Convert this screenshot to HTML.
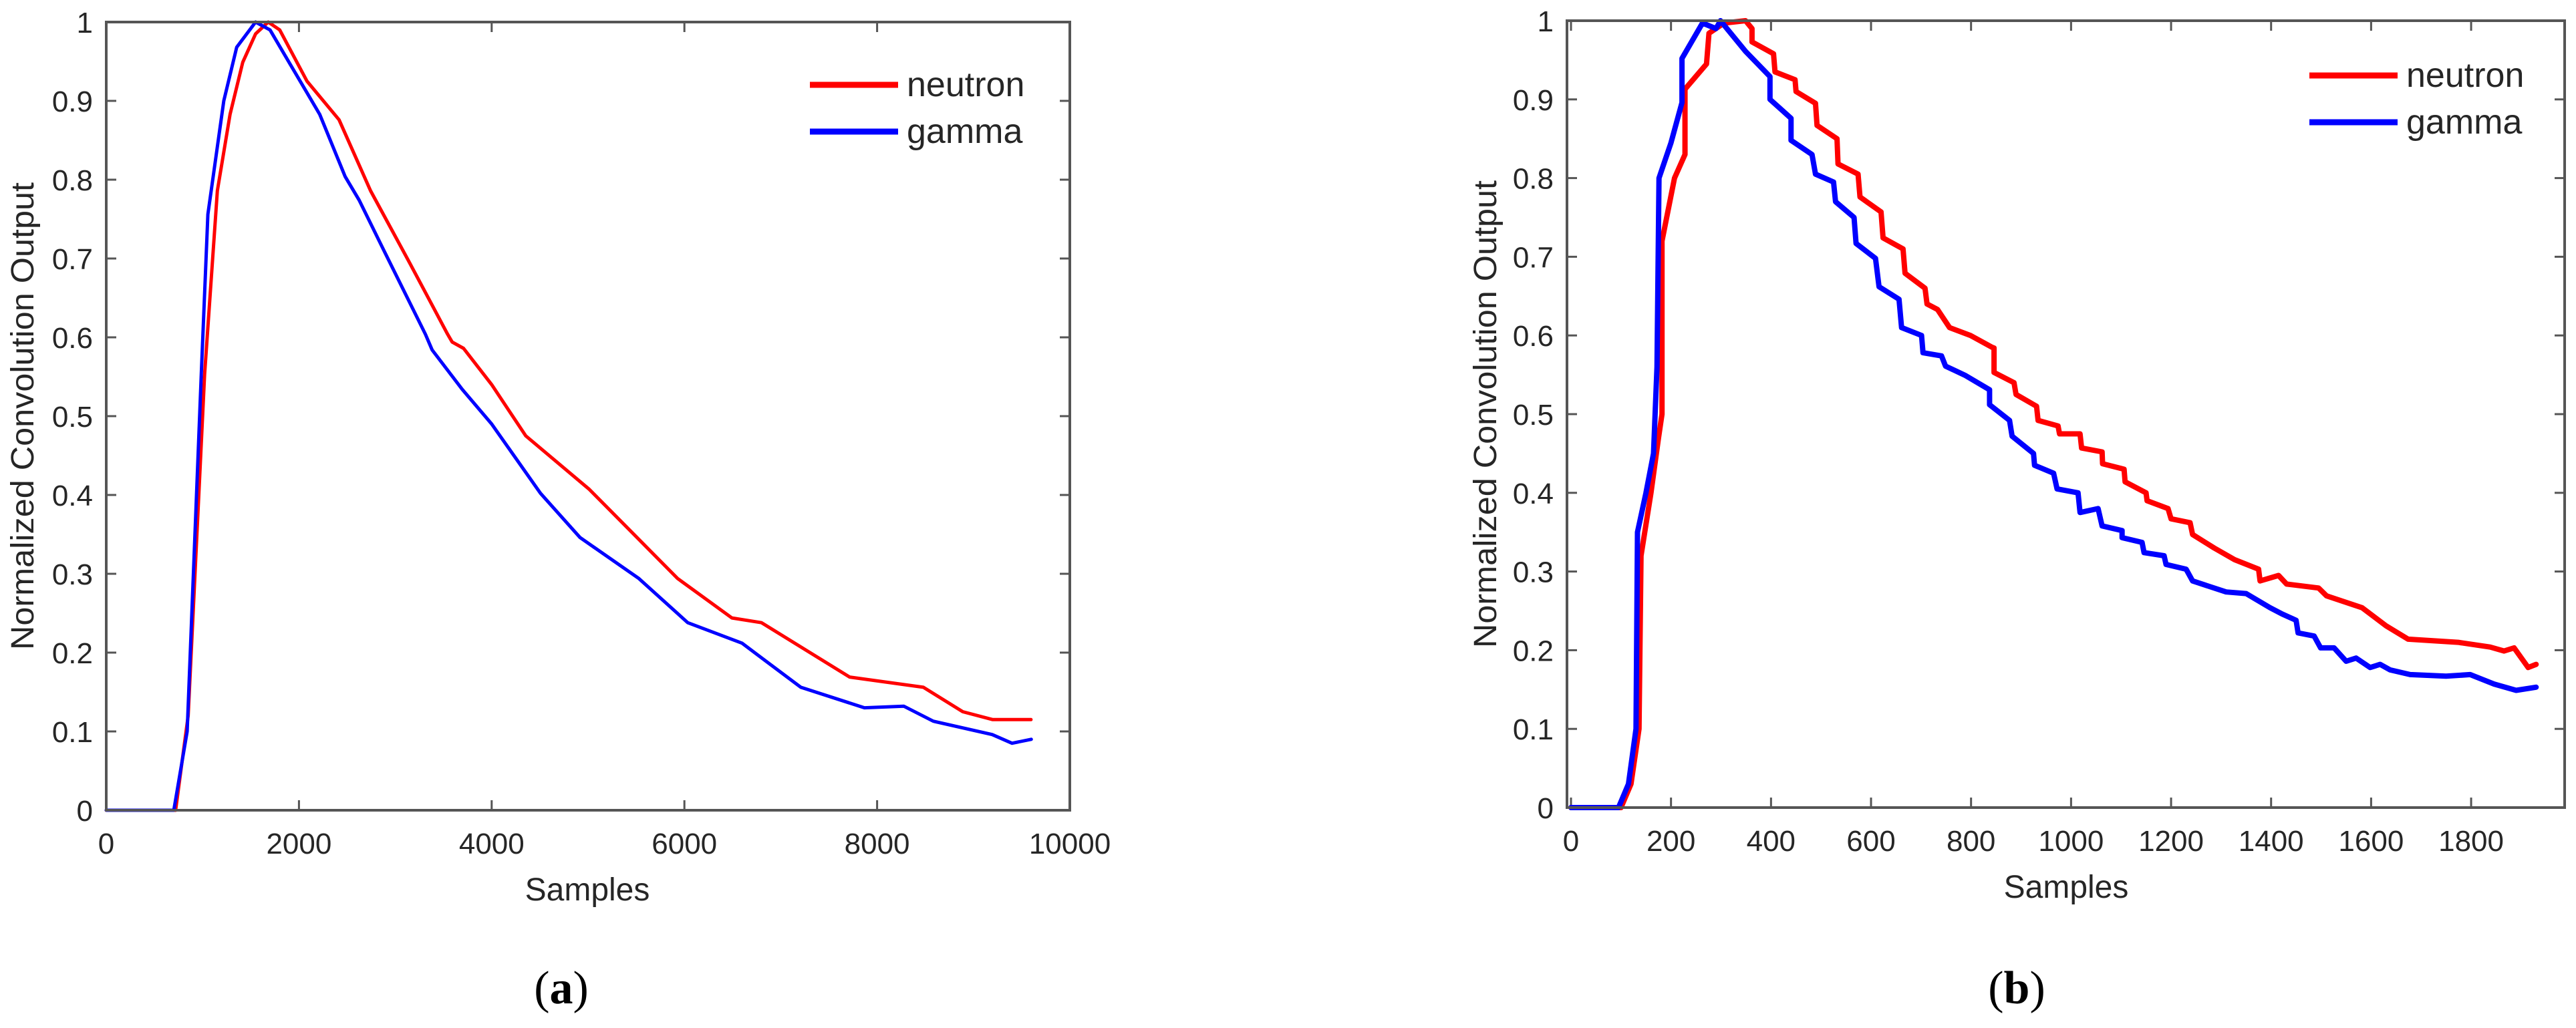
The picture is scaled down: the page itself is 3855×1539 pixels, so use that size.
<!DOCTYPE html>
<html>
<head>
<meta charset="utf-8">
<style>
  html, body { margin: 0; padding: 0; background: #fff; }
  svg { display: block; }
  text { font-family: "Liberation Sans", Arial, sans-serif; fill: #262626; }
  .serif { font-family: "Liberation Serif", "Times New Roman", serif; fill: #000; }
</style>
</head>
<body>
<svg id="fig" width="3855" height="1539" viewBox="0 0 3855 1539" xmlns="http://www.w3.org/2000/svg">
  <rect x="0" y="0" width="3855" height="1539" fill="#fff"/>
  <g id="panelA"></g>
  <g id="panelB"></g>
</svg>
<script>
// ---------- Panel (a) data ----------
const aNeutronX = [0, 720, 850, 1021, 1153, 1285, 1417, 1550, 1681, 1800, 2083, 2416, 2743, 3146, 3542, 3590, 3708, 4000, 4354, 5014, 5930, 6493, 6800, 7715, 8480, 8889, 9200, 9597];
const aNeutronY = [0, 0, 0.12, 0.553, 0.786, 0.883, 0.949, 0.985, 1.0, 0.99, 0.925, 0.876, 0.786, 0.695, 0.604, 0.594, 0.586, 0.54, 0.475, 0.407, 0.294, 0.244, 0.238, 0.169, 0.156, 0.125, 0.115, 0.115];
const aGammaX = [0, 701, 840, 986, 1055, 1220, 1354, 1550, 1700, 1882, 2215, 2479, 2625, 2882, 3312, 3382, 3694, 4000, 4507, 4917, 5528, 6035, 6597, 7208, 7868, 8277, 8583, 9194, 9400, 9600];
const aGammaY = [0, 0, 0.1, 0.553, 0.756, 0.90, 0.968, 1.0, 0.99, 0.952, 0.883, 0.804, 0.774, 0.71, 0.604, 0.584, 0.534, 0.49, 0.402, 0.346, 0.294, 0.238, 0.212, 0.156, 0.13, 0.132, 0.113, 0.096, 0.085, 0.09];
const aXTicks = [0, 2000, 4000, 6000, 8000, 10000];
const aXTickLabels = ["0", "2000", "4000", "6000", "8000", "10000"];
const yTicks = [0, 0.1, 0.2, 0.3, 0.4, 0.5, 0.6, 0.7, 0.8, 0.9, 1];
const yTickLabels = ["0", "0.1", "0.2", "0.3", "0.4", "0.5", "0.6", "0.7", "0.8", "0.9", "1"];

// ---------- Panel (b) data ----------
const bNeutronX = [0, 100, 120, 136, 140, 160, 175, 182, 182, 207, 228, 228, 271, 276, 306, 349, 362, 362, 405, 408, 448, 450, 489, 492, 532, 534, 574, 578, 620, 624, 664, 668, 708, 712, 733, 757, 799, 842, 846, 846, 886, 890, 931, 934, 974, 977, 1018, 1021, 1062, 1063, 1106, 1108, 1150, 1152, 1194, 1200, 1238, 1243, 1286, 1327, 1375, 1378, 1415, 1431, 1495, 1511, 1582, 1630, 1674, 1774, 1838, 1866, 1886, 1914, 1930];
const bNeutronY = [0, 0, 0.03, 0.1, 0.32, 0.4, 0.47, 0.5, 0.72, 0.8, 0.83, 0.913, 0.945, 0.984, 0.997, 1.0, 0.99, 0.973, 0.958, 0.935, 0.925, 0.91, 0.895, 0.867, 0.85, 0.818, 0.805, 0.776, 0.757, 0.724, 0.71, 0.679, 0.66, 0.64, 0.633, 0.61, 0.60, 0.585, 0.584, 0.553, 0.54, 0.525, 0.51, 0.492, 0.485, 0.475, 0.475, 0.457, 0.452, 0.437, 0.43, 0.414, 0.40, 0.39, 0.38, 0.367, 0.362, 0.347, 0.33, 0.315, 0.303, 0.288, 0.295, 0.284, 0.279, 0.269, 0.254, 0.231, 0.214, 0.21, 0.204, 0.199, 0.203, 0.178, 0.182];
const bGammaX = [0, 95, 115, 130, 133, 150, 165, 172, 176, 200, 222, 222, 263, 290, 299, 349, 398, 398, 440, 440, 482, 489, 525, 529, 566, 570, 609, 616, 656, 661, 701, 704, 741, 749, 789, 837, 837, 877, 882, 925, 927, 965, 972, 1014, 1018, 1054, 1062, 1102, 1102, 1142, 1146, 1186, 1190, 1230, 1243, 1310, 1350, 1398, 1422, 1450, 1454, 1486, 1499, 1526, 1550, 1570, 1598, 1618, 1638, 1678, 1750, 1798, 1846, 1890, 1930];
const bGammaY = [0, 0, 0.03, 0.1, 0.35, 0.4, 0.45, 0.56, 0.8, 0.845, 0.896, 0.952, 0.997, 0.99, 1.0, 0.961, 0.929, 0.90, 0.876, 0.848, 0.83, 0.805, 0.795, 0.77, 0.75, 0.717, 0.698, 0.662, 0.646, 0.61, 0.60, 0.578, 0.574, 0.561, 0.549, 0.531, 0.512, 0.492, 0.472, 0.45, 0.435, 0.425, 0.405, 0.40, 0.375, 0.38, 0.358, 0.352, 0.343, 0.337, 0.324, 0.32, 0.309, 0.303, 0.288, 0.274, 0.272, 0.254, 0.246, 0.238, 0.222, 0.218, 0.203, 0.203, 0.186, 0.19, 0.178, 0.182, 0.175, 0.169, 0.167, 0.169, 0.157, 0.149, 0.153];
const bXTicks = [0, 200, 400, 600, 800, 1000, 1200, 1400, 1600, 1800];
const bXTickLabels = ["0", "200", "400", "600", "800", "1000", "1200", "1400", "1600", "1800"];

const NS = "http://www.w3.org/2000/svg";
function mk(tag, attrs, parent) {
  const e = document.createElementNS(NS, tag);
  for (const k in attrs) e.setAttribute(k, attrs[k]);
  parent.appendChild(e);
  return e;
}

function drawPanel(g, cfg) {
  const sx = v => cfg.left + (v - cfg.xmin) / (cfg.xmax - cfg.xmin) * (cfg.right - cfg.left);
  const sy = v => cfg.bottom - v * (cfg.bottom - cfg.top);

  // y ticks
  yTicks.forEach((t, i) => {
    const y = sy(t);
    const tl = mk('line', {x1: cfg.left, x2: cfg.left + 15, y1: y, y2: y, stroke: '#555', 'stroke-width': 3}, g);
    
    
    const tr = mk('line', {x1: cfg.right - 15, x2: cfg.right, y1: y, y2: y, stroke: '#555', 'stroke-width': 3}, g);
    
    
    const lb = mk('text', {x: cfg.left - 20, y: y + 16, 'font-size': 44, 'text-anchor': 'end'}, g);
    lb.textContent = yTickLabels[i];
    
    
  });
  // x ticks
  cfg.xTicks.forEach((t, i) => {
    const x = sx(t);
    const tb = mk('line', {x1: x, x2: x, y1: cfg.bottom, y2: cfg.bottom - 15, stroke: '#555', 'stroke-width': 3}, g);
    
    
    const tt = mk('line', {x1: x, x2: x, y1: cfg.top, y2: cfg.top + 15, stroke: '#555', 'stroke-width': 3}, g);
    
    
    const lb = mk('text', {x: x, y: cfg.bottom + 65, 'font-size': 44, 'text-anchor': 'middle'}, g);
    lb.textContent = cfg.xTickLabels[i];
    
    
  });

  // series
  cfg.series.forEach(s => {
    const pts = s.x.map((v, i) => sx(v).toFixed(1) + ',' + sy(s.y[i]).toFixed(1)).join(' ');
    const pl = mk('polyline', {points: pts, fill: 'none', stroke: s.color, 'stroke-width': cfg.lw, 'stroke-linejoin': 'round', 'stroke-linecap': 'round'}, g);
    
    
  });

  // axes box
  const box = mk('rect', {x: cfg.left, y: cfg.top, width: cfg.right - cfg.left, height: cfg.bottom - cfg.top, fill: 'none', stroke: '#555', 'stroke-width': 4}, g);
  
  

  // labels
  const xl = mk('text', {x: cfg.xLabelX, y: cfg.bottom + 135, 'font-size': 48, 'text-anchor': 'middle'}, g);
  xl.textContent = 'Samples';
  
  
  const cy = (cfg.top + cfg.bottom) / 2;
  const yl = mk('text', {x: 0, y: 0, 'font-size': 48, 'text-anchor': 'middle', textLength: 700, lengthAdjust: 'spacingAndGlyphs', transform: 'translate(' + (cfg.yLabelX + 17) + ',' + cy + ') rotate(-90)'}, g);
  yl.textContent = 'Normalized Convolution Output';
  
  

  // legend
  cfg.series.forEach((s, i) => {
    const ly = cfg.legY + i * 70;
    const ll = mk('line', {x1: cfg.legX, x2: cfg.legX + 132, y1: ly, y2: ly, stroke: s.color, 'stroke-width': 9}, g);
    
    
    const lt = mk('text', {x: cfg.legX + 145, y: ly + 17, 'font-size': 52, fill: '#000'}, g);
    lt.textContent = s.label;
    
    
  });

  // panel caption
  const cap = mk('text', {x: cfg.capX, y: 1502, 'font-size': 70, 'text-anchor': 'middle', class: 'serif'}, g);
  cap.innerHTML = '(<tspan font-weight="bold">' + cfg.cap + '</tspan>)';
  
  
}

drawPanel(document.getElementById('panelA'), {
  left: 159, right: 1601, top: 33, bottom: 1213, xmin: 0, xmax: 10000,
  xTicks: aXTicks, xTickLabels: aXTickLabels, lw: 5,
  series: [
    {name: 'neutron-line-a', label: 'neutron', color: '#ff0000', x: aNeutronX, y: aNeutronY},
    {name: 'gamma-line-a', label: 'gamma', color: '#0000ff', x: aGammaX, y: aGammaY}
  ],
  xLabelX: 879, yLabelX: 33, legX: 1212, legY: 127, capX: 840, cap: 'a'
});
drawPanel(document.getElementById('panelB'), {
  left: 2345, right: 3838, top: 31, bottom: 1209, xmin: -8, xmax: 1987,
  xTicks: bXTicks, xTickLabels: bXTickLabels, lw: 8,
  series: [
    {name: 'neutron-line-b', label: 'neutron', color: '#ff0000', x: bNeutronX, y: bNeutronY},
    {name: 'gamma-line-b', label: 'gamma', color: '#0000ff', x: bGammaX, y: bGammaY}
  ],
  xLabelX: 3092, yLabelX: 2222, legX: 3456, legY: 113, capX: 3018, cap: 'b'
});
</script>
</body>
</html>
